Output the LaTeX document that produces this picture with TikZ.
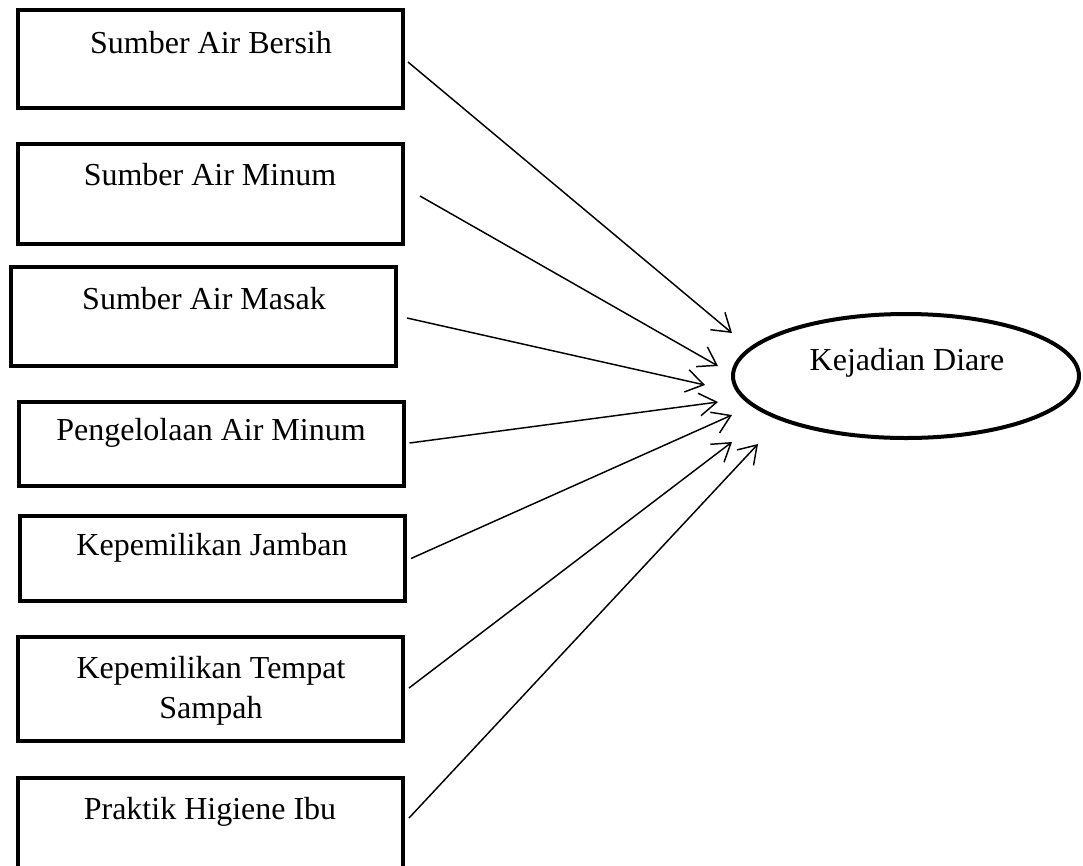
\documentclass[tikz,border=0pt]{standalone}
\usepackage{fontspec}
\setmainfont{Liberation Serif}
\usetikzlibrary{arrows.meta,shapes.geometric}
\begin{document}
\begin{tikzpicture}[x=0.75pt,y=-0.75pt,
  box/.style={draw=black,line width=3pt,rectangle,inner sep=0pt,minimum width=385*0.75pt},
  lab/.style={anchor=base,inner sep=0pt,font=\fontsize{24}{30}\selectfont,align=center},
  arr/.style={line width=1.1pt,-{Straight Barb[length=13pt,width=17pt,line width=1.1pt]}}]
\useasboundingbox (0,0) rectangle (1083,865);
% boxes
\node[box,minimum height=98*0.75pt] (b1) at (210.5,59) {};
\node[box,minimum height=100*0.75pt] (b2) at (210.5,194) {};
\node[box,minimum height=99*0.75pt] (b3) at (203.5,316.5) {};
\node[box,minimum height=84*0.75pt] (b4) at (211,444) {};
\node[box,minimum height=85*0.75pt] (b5) at (212.5,558.5) {};
\node[box,minimum height=104*0.75pt] (b6) at (210.5,689) {};
\node[box,minimum height=96*0.75pt] (b7) at (210.5,826) {};
% labels
\node[lab] (l1) at (211,53) {Sumber Air Bersih};
\node[lab] (l2) at (210,185) {Sumber Air Minum};
\node[lab] (l3) at (204,309) {Sumber Air Masak};
\node[lab] (l4) at (211,440) {Pengelolaan Air Minum};
\node[lab] (l5) at (212,555) {Kepemilikan Jamban};
\node[lab] (l6) at (211,718) {Kepemilikan Tempat\\Sampah};
\node[lab] (l7) at (210,819) {Praktik Higiene Ibu};
% ellipse
\node[draw=black,line width=3pt,ellipse,inner sep=0pt,minimum width=346*0.75pt,minimum height=124*0.75pt] (e) at (906,376) {};
\node[lab] (le) at (907,370) {Kejadian Diare};
% tips
\coordinate (t1) at (732,333);
\coordinate (t2) at (718,366);
\coordinate (t3) at (705,385);
\coordinate (t4) at (718,402);
\coordinate (t5) at (732,415);
\coordinate (t6) at (732,442);
\coordinate (t7) at (758,444);
% arrows
\draw[arr] ([shift={(3,3)}]b1.east) -- (t1);
\draw[arr] ([shift={(15,2)}]b2.east) -- (t2);
\draw[arr] ([shift={(9,1.5)}]b3.east) -- (t3);
\draw[arr] ([shift={(4,-1)}]b4.east) -- (t4);
\draw[arr] ([shift={(4,0)}]b5.east) -- (t5);
\draw[arr] ([shift={(4,-1)}]b6.east) -- (t6);
\draw[arr] ([shift={(4,-8)}]b7.east) -- (t7);
\end{tikzpicture}
\end{document}
